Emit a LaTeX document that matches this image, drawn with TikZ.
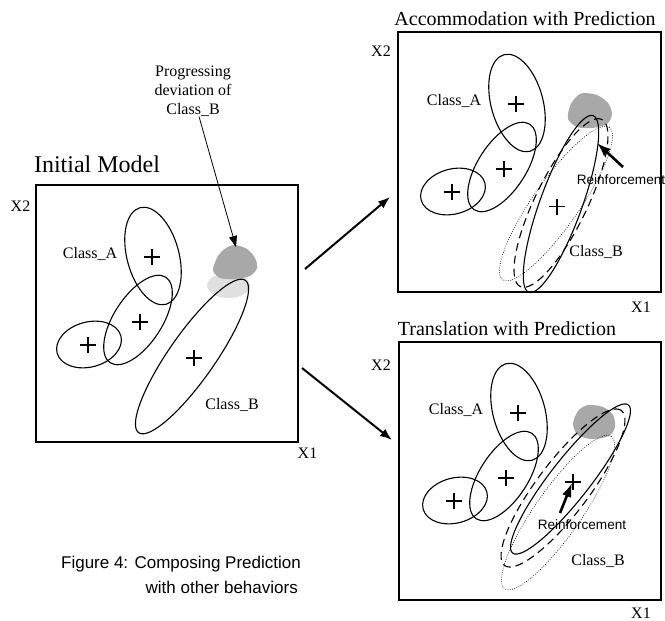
\documentclass[tikz,border=0pt]{standalone}
\usepackage{fontspec}
\setmainfont{Liberation Serif}
\newfontfamily\arialfont{Liberation Sans}
\usetikzlibrary{arrows.meta}
\definecolor{blobdark}{RGB}{168,168,168}
\definecolor{bloblight}{RGB}{224,224,224}
\tikzset{
    ell/.style={line width=1.1pt},
    dashline/.style={line width=1.1pt, dash pattern=on 8pt off 5pt},
    dotline/.style={line width=0.7pt, dash pattern=on 0.7pt off 1.6pt},
    frame/.style={line width=1.5pt},
    lbl/.style={inner sep=0pt, font=\fontsize{16}{19}\selectfont},
    title/.style={inner sep=0pt, font=\fontsize{20}{24}\selectfont},
    reinf/.style={inner sep=0pt, font=\arialfont\fontsize{13.6}{16}\selectfont},
    capt/.style={inner sep=0pt, font=\arialfont\fontsize{17}{21}\selectfont},
    bigarrow/.style={line width=2pt, -{Latex[length=12pt, width=9pt]}},
    pusharrow/.style={line width=2.6pt, -{Latex[length=14pt, width=10pt]}},
    ptr/.style={line width=0.8pt, -{Triangle[length=11pt, width=8pt]}}
}
\tikzset{
    plus/.pic={
		\draw[line width=1.1pt] (-8,0) -- (8,0) (0,-8) -- (0,8);
	}
}
\tikzset{
    model/.pic={
		\draw[ell, shift={(1,-1)}, rotate=105] (0,0) ellipse (50pt and 26pt);
		\draw[ell, shift={(-14,63)}, rotate=57] (0,0) ellipse (51pt and 24pt);
		\draw[ell, shift={(-63,87.5)}, rotate=15] (0,0) ellipse (33pt and 22.5pt);
		\pic at (0,0) {plus};
		\pic at (-12,65) {plus};
		\pic at (-64,88) {plus};
		\node[lbl] (-clsA) at (-62,-3) {Class\_A};
		\node[lbl] (-clsB) at (80,148) {Class\_B};
		\draw[#1, shift={(40,99.5)}, rotate=55] (0,0) ellipse (93pt and 23pt);
	}
}
\begin{document}
\begin{tikzpicture}[x=1pt, y=-1pt]
			\useasboundingbox (0,0) rectangle (665,621);
			% initial model
			\draw[frame] (36,185) rectangle (298,442);
			\fill[bloblight] (228.5,285.5) ellipse (21.5pt and 12.5pt);
			\fill[blobdark] plot[smooth cycle] coordinates {(235,245) (247,249) (255,258) (257,268) (250,276) (235,279) (220,278) (213,270) (218,256) (226,248)};
			\pic (ini) at (152,257) {model=ell};
			\pic at (194,358) {plus};
			\node[title, font=\fontsize{24}{28}\selectfont] (tini) at (97,164) {Initial Model};
			\node[lbl] (x2ini) at (20.5,206) {X2};
			\node[lbl] (x1ini) at (307.5,453) {X1};
			\node[lbl, align=center] (prog) at (193,91) {Progressing\\deviation of\\Class\_B};
			\coordinate (devtip) at (236,247);
			\draw[ptr] ([xshift=6pt]prog.south) -- (devtip);
			% accommodation
			\draw[frame] (398,32) rectangle (661,292);
			\fill[blobdark] plot[smooth cycle] coordinates {(583,93) (597,95) (608,103) (612,114) (607,124) (592,128) (577,127) (568,119) (570,106) (576,97)};
			\pic (acc) at (516,104) {model=dotline};
			\draw[dashline, shift={(561,203)}, rotate=64] (0,0) ellipse (93pt and 26pt);
			\draw[ell, shift={(561,204)}, rotate=70] (0,0) ellipse (94pt and 21pt);
			\pic at (557,206.5) {plus};
			\node[title] (tacc) at (525,19) {Accommodation with Prediction};
			\node[lbl] (x2acc) at (381,51) {X2};
			\node[lbl] (x1acc) at (641,307) {X1};
			\node[reinf] (rfacc) at (621,180) {Reinforcement};
			\coordinate (rfacctail) at (623,167);
			\coordinate (rfacctip) at (597,143);
			\draw[pusharrow] (rfacctail) -- (rfacctip);
			% translation
			\draw[frame] (399,342) rectangle (661,600);
			\fill[blobdark] plot[smooth cycle] coordinates {(588,405) (603,407) (613,415) (615,427) (609,436) (592,439) (578,435) (573,424) (578,411)};
			\pic (tra) at (518,413) {model=dotline};
			\draw[dashline, shift={(563,488)}, rotate=53] (0,0) ellipse (97pt and 26pt);
			\draw[ell, shift={(570.5,479)}, rotate=52] (0,0) ellipse (94pt and 20pt);
			\pic at (573,482) {plus};
			\node[title] (ttra) at (507,329) {Translation with Prediction};
			\node[lbl] (x2tra) at (381,365) {X2};
			\node[lbl] (x1tra) at (641,613) {X1};
			\node[reinf] (rftra) at (582,525) {Reinforcement};
			\coordinate (rftratail) at (560,513);
			\coordinate (rftratip) at (572,483);
			\draw[pusharrow] (rftratail) -- (rftratip);
			% composing arrows
			\coordinate (upfrom) at (305,269);
			\coordinate (upto) at (390,197);
			\coordinate (downfrom) at (302,368);
			\coordinate (downto) at (392,440);
			\draw[bigarrow] (upfrom) -- (upto);
			\draw[bigarrow] (downfrom) -- (downto);
			\node[capt] (cap1) at (181,564) {Figure 4: Composing Prediction};
			\node[capt, anchor=east] (cap2) at (298,587) {with other behaviors};
		\end{tikzpicture}
\end{document}
